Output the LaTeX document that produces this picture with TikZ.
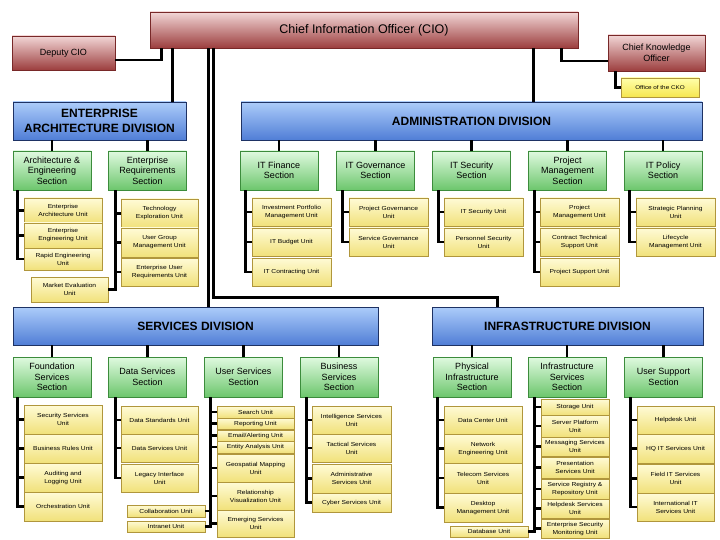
\documentclass[tikz,border=0pt]{standalone}
\usepackage{fontspec}
\setmainfont{Liberation Sans}
\newfontfamily\unitfont[FakeStretch=1.15]{Liberation Sans}
\definecolor{cioTop}{RGB}{242,214,214}
\definecolor{cioBot}{RGB}{156,62,62}
\definecolor{cioLine}{RGB}{120,40,40}
\definecolor{divTop}{RGB}{172,204,250}
\definecolor{divBot}{RGB}{80,126,214}
\definecolor{divLine}{RGB}{30,50,100}
\definecolor{secTop}{RGB}{224,250,224}
\definecolor{secBot}{RGB}{108,198,108}
\definecolor{secLine}{RGB}{60,140,60}
\definecolor{unitTop}{RGB}{255,251,214}
\definecolor{unitBot}{RGB}{241,225,122}
\definecolor{unitLine}{RGB}{176,150,60}
\definecolor{ckoTop}{RGB}{255,255,170}
\definecolor{ckoBot}{RGB}{246,230,80}

\begin{document}
\begin{tikzpicture}[x=1pt, y=-1pt,
headbox/.style={draw=cioLine, line width=0.8pt, top color=cioTop, bottom color=cioBot, align=center, inner sep=1pt, font=\fontsize{9}{11}\selectfont},
divbox/.style={draw=divLine, line width=0.8pt, top color=divTop, bottom color=divBot, align=center, inner sep=1pt, minimum height=38, font=\fontsize{12}{14.5}\selectfont\bfseries},
secbox/.style={draw=secLine, line width=0.8pt, top color=secTop, bottom color=secBot, align=center, inner sep=1pt, minimum width=78, font=\fontsize{9}{10.5}\selectfont},
unitbox/.style={draw=unitLine, line width=0.8pt, top color=unitTop, bottom color=unitBot, align=center, inner sep=0.5pt, minimum width=78, minimum height=28, font=\unitfont\fontsize{5.8}{8}\selectfont},
linkline/.style={line width=2.8pt, draw=black}]
\useasboundingbox (0,0) rectangle (720,540);

% top level
\node[headbox, minimum width=428, minimum height=36, font=\fontsize{12.5}{14}\selectfont] (cio) at (364,30) {Chief Information Officer (CIO)};
\node[headbox, minimum width=103, minimum height=34] (dep) at (63.5,53) {Deputy CIO};
\node[headbox, minimum width=97, minimum height=36] (cko) at (656.5,53) {Chief Knowledge\\Officer};
\node[unitbox, top color=ckoTop, bottom color=ckoBot, minimum height=19, font=\unitfont\fontsize{5.5}{7}\selectfont] (ocko) at (660,87.5) {Office of the CKO};

% divisions
\node[divbox, minimum width=173] (ea) at (99.5,121) {ENTERPRISE\\ARCHITECTURE DIVISION};
\node[divbox, minimum width=461] (adm) at (471.5,121) {ADMINISTRATION DIVISION};
\node[divbox, minimum width=365] (srv) at (195.5,326) {SERVICES DIVISION};
\node[divbox, minimum width=271] (inf) at (567.5,326) {INFRASTRUCTURE DIVISION};

% sections
\node[secbox, minimum height=39] (ae) at (52,170.5) {Architecture \&\\Engineering\\Section};
\node[secbox, minimum height=39] (er) at (147.5,170.5) {Enterprise\\Requirements\\Section};
\node[secbox, minimum height=39] (fin) at (279,170.5) {IT Finance\\Section};
\node[secbox, minimum height=39] (gov) at (375.5,170.5) {IT Governance\\Section};
\node[secbox, minimum height=39] (sec) at (471.5,170.5) {IT Security\\Section};
\node[secbox, minimum height=39] (pm) at (567.5,170.5) {Project\\Management\\Section};
\node[secbox, minimum height=39] (pol) at (663,170.5) {IT Policy\\Section};
\node[secbox, minimum height=40] (fnd) at (52,377) {Foundation\\Services\\Section};
\node[secbox, minimum height=40] (dat) at (147.5,377) {Data Services\\Section};
\node[secbox, minimum height=40] (usr) at (243.5,377) {User Services\\Section};
\node[secbox, minimum height=40] (bus) at (339,377) {Business\\Services\\Section};
\node[secbox, minimum height=40] (phy) at (472,377) {Physical\\Infrastructure\\Section};
\node[secbox, minimum height=40] (ifs) at (567,377) {Infrastructure\\Services\\Section};
\node[secbox, minimum height=40] (ups) at (663.5,377) {User Support\\Section};

% enterprise architecture units
\node[unitbox, minimum height=25] (ae1) at (63,210.5) {Enterprise\\Architecture Unit};
\node[unitbox, minimum height=25] (ae2) at (63,235.5) {Enterprise\\Engineering Unit};
\node[unitbox, minimum height=22] (ae3) at (63,259) {Rapid Engineering\\Unit};
\node[unitbox, minimum width=77, minimum height=25] (meu) at (69.5,289.5) {Market Evaluation\\Unit};
\node[unitbox, minimum width=77, minimum height=29] (er1) at (159.5,213.5) {Technology\\Exploration Unit};
\node[unitbox, minimum width=77, minimum height=29] (er2) at (159.5,242.5) {User Group\\Management Unit};
\node[unitbox, minimum width=77] (er3) at (159.5,272) {Enterprise User\\Requirements Unit};

% administration units
\node[unitbox, minimum width=79] (fin1) at (291.5,212) {Investment Portfolio\\Management Unit};
\node[unitbox, minimum width=79] (fin2) at (291.5,242) {IT Budget Unit};
\node[unitbox, minimum width=79] (fin3) at (291.5,272) {IT Contracting Unit};
\node[unitbox, minimum width=79] (gov1) at (388.5,212) {Project Governance\\Unit};
\node[unitbox, minimum width=79] (gov2) at (388.5,242) {Service Governance\\Unit};
\node[unitbox, minimum width=79] (sec1) at (483.5,212) {IT Security Unit};
\node[unitbox, minimum width=79] (sec2) at (483.5,242) {Personnel Security\\Unit};
\node[unitbox, minimum width=79] (pm1) at (579.5,212) {Project\\Management Unit};
\node[unitbox, minimum width=79] (pm2) at (579.5,242) {Contract Technical\\Support Unit};
\node[unitbox, minimum width=79] (pm3) at (579.5,272) {Project Support Unit};
\node[unitbox, minimum width=79] (pol1) at (675.5,212) {Strategic Planning\\Unit};
\node[unitbox, minimum width=79] (pol2) at (675.5,242) {Lifecycle\\Management Unit};

% services units
\node[unitbox, minimum height=29] (fnd1) at (63,419.5) {Security Services\\Unit};
\node[unitbox, minimum height=29] (fnd2) at (63,448.5) {Business Rules Unit};
\node[unitbox, minimum height=29] (fnd3) at (63,477.5) {Auditing and\\Logging Unit};
\node[unitbox, minimum height=29] (fnd4) at (63,506.5) {Orchestration Unit};
\node[unitbox, minimum width=77] (dat1) at (159.5,420) {Data Standards Unit};
\node[unitbox, minimum width=77] (dat2) at (159.5,448) {Data Services Unit};
\node[unitbox, minimum width=77] (dat3) at (159.5,478) {Legacy Interface\\Unit};
\node[unitbox, minimum height=12] (col) at (166,511) {Collaboration Unit};
\node[unitbox, minimum height=11] (intr) at (166,526.5) {Intranet Unit};
\node[unitbox, minimum width=77, minimum height=12] (usr1) at (255.5,412) {Search Unit};
\node[unitbox, minimum width=77, minimum height=11] (usr2) at (255.5,423.5) {Reporting Unit};
\node[unitbox, minimum width=77, minimum height=11] (usr3) at (255.5,435.5) {Email/Alerting Unit};
\node[unitbox, minimum width=77, minimum height=12] (usr4) at (255.5,447) {Entity Analysis Unit};
\node[unitbox, minimum width=77] (usr5) at (255.5,468) {Geospatial Mapping\\Unit};
\node[unitbox, minimum width=77] (usr6) at (255.5,496) {Relationship\\Visualization Unit};
\node[unitbox, minimum width=77, minimum height=27] (usr7) at (255.5,523.5) {Emerging Services\\Unit};
\node[unitbox, minimum width=79] (bus1) at (351.5,420) {Intelligence Services\\Unit};
\node[unitbox, minimum width=79] (bus2) at (351.5,448) {Tactical Services\\Unit};
\node[unitbox, minimum width=79, minimum height=29] (bus3) at (351.5,478.5) {Administrative\\Services Unit};
\node[unitbox, minimum width=79, minimum height=19] (bus4) at (351.5,502.5) {Cyber Services Unit};

% infrastructure units
\node[unitbox] (phy1) at (483,420) {Data Center Unit};
\node[unitbox, minimum height=29] (phy2) at (483,448.5) {Network\\Engineering Unit};
\node[unitbox, minimum height=30] (phy3) at (483,478) {Telecom Services\\Unit};
\node[unitbox, minimum height=29] (phy4) at (483,507.5) {Desktop\\Management Unit};
\node[unitbox, minimum height=11] (dbu) at (489,531.5) {Database Unit};
\node[unitbox, minimum width=68, minimum height=16] (ifs1) at (575,407) {Storage Unit};
\node[unitbox, minimum width=68, minimum height=22] (ifs2) at (575,426) {Server Platform\\Unit};
\node[unitbox, minimum width=68, minimum height=19] (ifs3) at (575,446.5) {Messaging Services\\Unit};
\node[unitbox, minimum width=68, minimum height=21] (ifs4) at (575,467.5) {Presentation\\Services Unit};
\node[unitbox, minimum width=68, minimum height=20] (ifs5) at (575,489) {Service Registry \&\\Repository Unit};
\node[unitbox, minimum width=68, minimum height=19] (ifs6) at (575,508.5) {Helpdesk Services\\Unit};
\node[unitbox, minimum width=68, minimum height=19] (ifs7) at (575,528.5) {Enterprise Security\\Monitoring Unit};
\node[unitbox, minimum width=77] (ups1) at (675.5,420) {Helpdesk Unit};
\node[unitbox, minimum width=77, minimum height=29] (ups2) at (675.5,448.5) {HQ IT Services Unit};
\node[unitbox, minimum width=77, minimum height=29] (ups3) at (675.5,478.5) {Field IT Services\\Unit};
\node[unitbox, minimum width=77] (ups4) at (675.5,507) {International IT\\Services Unit};

% top connectors
\draw[linkline] ([xshift=12]cio.south west) |- ([yshift=-7]dep.east);
\draw[linkline] ([xshift=-17]cio.south east) |- ([yshift=-8]cko.west);
\draw[linkline] ([xshift=8]cko.south west) |- (ocko.west);
\draw[linkline] ([xshift=23]cio.south west) -- ([xshift=23]cio.south west |- ea.north);
\draw[linkline] ([xshift=-45]cio.south east) -- ([xshift=-45]cio.south east |- adm.north);
\draw[linkline] ([xshift=59]cio.south west) -- ([xshift=59]cio.south west |- srv.north);
\draw[linkline] ([xshift=64]cio.south west) |- ([xshift=66,yshift=9]inf.north west) -- ([xshift=66]inf.north west);

% division to section
\draw[linkline] (ae.north) -- (ae.north |- ea.south);
\draw[linkline] (er.north) -- (er.north |- ea.south);
\draw[linkline] (fin.north) -- (fin.north |- adm.south);
\draw[linkline] (gov.north) -- (gov.north |- adm.south);
\draw[linkline] (sec.north) -- (sec.north |- adm.south);
\draw[linkline] (pm.north) -- (pm.north |- adm.south);
\draw[linkline] (pol.north) -- (pol.north |- adm.south);
\draw[linkline] (fnd.north) -- (fnd.north |- srv.south);
\draw[linkline] (dat.north) -- (dat.north |- srv.south);
\draw[linkline] (usr.north) -- (usr.north |- srv.south);
\draw[linkline] (bus.north) -- (bus.north |- srv.south);
\draw[linkline] (phy.north) -- (phy.north |- inf.south);
\draw[linkline] (ifs.north) -- (ifs.north |- inf.south);
\draw[linkline] (ups.north) -- (ups.north |- inf.south);

% section to unit
\draw[linkline] ([xshift=5]ae.south west) |- (ae1.west);
\draw[linkline] ([xshift=5]ae.south west) |- (ae2.west);
\draw[linkline] ([xshift=5]ae.south west) |- (ae3.west);
\draw[linkline] ([xshift=7]er.south west) |- (er1.west);
\draw[linkline] ([xshift=7]er.south west) |- (er2.west);
\draw[linkline] ([xshift=7]er.south west) |- (er3.west);
\draw[linkline] ([xshift=7]er.south west) |- (meu.east);
\draw[linkline] ([xshift=6]fin.south west) |- (fin1.west);
\draw[linkline] ([xshift=6]fin.south west) |- (fin2.west);
\draw[linkline] ([xshift=6]fin.south west) |- (fin3.west);
\draw[linkline] ([xshift=6]gov.south west) |- (gov1.west);
\draw[linkline] ([xshift=6]gov.south west) |- (gov2.west);
\draw[linkline] ([xshift=6]sec.south west) |- (sec1.west);
\draw[linkline] ([xshift=6]sec.south west) |- (sec2.west);
\draw[linkline] ([xshift=6]pm.south west) |- (pm1.west);
\draw[linkline] ([xshift=6]pm.south west) |- (pm2.west);
\draw[linkline] ([xshift=6]pm.south west) |- (pm3.west);
\draw[linkline] ([xshift=6]pol.south west) |- (pol1.west);
\draw[linkline] ([xshift=6]pol.south west) |- (pol2.west);
\draw[linkline] ([xshift=5]fnd.south west) |- (fnd1.west);
\draw[linkline] ([xshift=5]fnd.south west) |- (fnd2.west);
\draw[linkline] ([xshift=5]fnd.south west) |- (fnd3.west);
\draw[linkline] ([xshift=5]fnd.south west) |- (fnd4.west);
\draw[linkline] ([xshift=7]dat.south west) |- (dat1.west);
\draw[linkline] ([xshift=7]dat.south west) |- (dat2.west);
\draw[linkline] ([xshift=7]dat.south west) |- (dat3.west);
\draw[linkline] ([xshift=6]usr.south west) |- (usr1.west);
\draw[linkline] ([xshift=6]usr.south west) |- (usr2.west);
\draw[linkline] ([xshift=6]usr.south west) |- (usr3.west);
\draw[linkline] ([xshift=6]usr.south west) |- (usr4.west);
\draw[linkline] ([xshift=6]usr.south west) |- (usr5.west);
\draw[linkline] ([xshift=6]usr.south west) |- (usr6.west);
\draw[linkline] ([xshift=6]usr.south west) |- (usr7.west);
\draw[linkline] ([xshift=6]usr.south west) |- (col.east);
\draw[linkline] ([xshift=6]usr.south west) |- (intr.east);
\draw[linkline] ([xshift=7]bus.south west) |- (bus1.west);
\draw[linkline] ([xshift=7]bus.south west) |- (bus2.west);
\draw[linkline] ([xshift=7]bus.south west) |- (bus3.west);
\draw[linkline] ([xshift=7]bus.south west) |- (bus4.west);
\draw[linkline] ([xshift=5]phy.south west) |- (phy1.west);
\draw[linkline] ([xshift=5]phy.south west) |- (phy2.west);
\draw[linkline] ([xshift=5]phy.south west) |- (phy3.west);
\draw[linkline] ([xshift=5]phy.south west) |- (phy4.west);
\draw[linkline] ([xshift=7]ifs.south west) |- (ifs1.west);
\draw[linkline] ([xshift=7]ifs.south west) |- (ifs2.west);
\draw[linkline] ([xshift=7]ifs.south west) |- (ifs3.west);
\draw[linkline] ([xshift=7]ifs.south west) |- (ifs4.west);
\draw[linkline] ([xshift=7]ifs.south west) |- (ifs5.west);
\draw[linkline] ([xshift=7]ifs.south west) |- (ifs6.west);
\draw[linkline] ([xshift=7]ifs.south west) |- (ifs7.west);
\draw[linkline] ([xshift=7]ifs.south west) |- (dbu.east);
\draw[linkline] ([xshift=6]ups.south west) |- (ups1.west);
\draw[linkline] ([xshift=6]ups.south west) |- (ups2.west);
\draw[linkline] ([xshift=6]ups.south west) |- (ups3.west);
\draw[linkline] ([xshift=6]ups.south west) |- (ups4.west);
\end{tikzpicture}
\end{document}
